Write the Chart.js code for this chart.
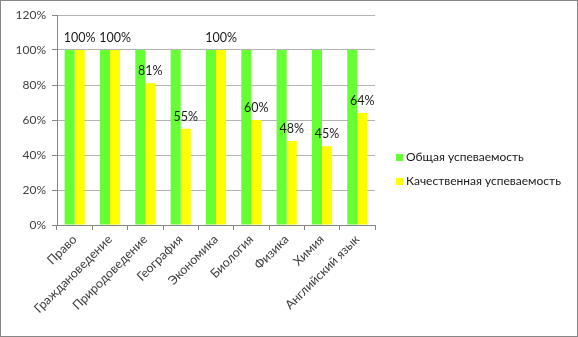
<!DOCTYPE html>
<html>
<head>
<meta charset="utf-8">
<script src="https://cdn.jsdelivr.net/npm/chart.js@4/dist/chart.umd.min.js"></script>
<style>
  html, body { margin: 0; padding: 0; background: #fff; }
  #wrap { width: 578px; height: 337px; }
</style>
</head>
<body>
<div id="wrap"><canvas id="chart" width="578" height="337"></canvas></div>
<script>
// Успеваемость по предметам
const subjects = ['Право', 'Граждановедение', 'Природоведение', 'География', 'Экономика',
  'Биология', 'Физика', 'Химия', 'Английский язык'];
const totalPerf = [100, 100, 100, 100, 100, 100, 100, 100, 100];
const qualityPerf = [100, 100, 81, 55, 100, 60, 48, 45, 64];
const yTicks = [0, 20, 40, 60, 80, 100, 120];

const FONT = 'Lato, "Open Sans", sans-serif';

// frame around the whole picture + value labels + legend
const extras = {
  id: 'extras',
  afterDraw(chart) {
    const c = chart.ctx;
    c.save();
    c.strokeStyle = '#868686';
    c.lineWidth = 1;
    c.strokeRect(0.5, 0.5, chart.width - 1, chart.height - 1);

    // labels above yellow bars
    c.fillStyle = '#1a1a1a';
    c.font = '12.5px ' + FONT;
    c.textAlign = 'center';
    c.textBaseline = 'bottom';
    chart.getDatasetMeta(1).data.forEach((bar, i) => {
      c.fillText(qualityPerf[i] + '%', bar.x, bar.y - 6);
    });

    // legend
    c.font = '12px ' + FONT;
    c.textAlign = 'left';
    c.textBaseline = 'middle';
    chart.data.datasets.forEach((ds, i) => {
      const y = 157 + i * 24;
      c.fillStyle = ds.backgroundColor;
      c.fillRect(396, y - 3, 7, 7);
      c.fillStyle = '#1a1a1a';
      c.fillText(ds.label, 406, y + 0.5);
    });
    c.restore();
  }
};

new Chart(document.getElementById('chart'), {
  type: 'bar',
  data: {
    labels: subjects,
    datasets: [
      { label: 'Общая успеваемость', data: totalPerf, backgroundColor: '#66FF33' },
      { label: 'Качественная успеваемость', data: qualityPerf, backgroundColor: '#FFFF00' }
    ]
  },
  options: {
    animation: false,
    responsive: false,
    layout: { padding: { left: 0, right: 203, top: 15, bottom: 0 } },
    datasets: { bar: { categoryPercentage: 0.57, barPercentage: 1 } },
    plugins: { legend: { display: false }, tooltip: { enabled: false } },
    scales: {
      x: {
        grid: { offset: true, drawOnChartArea: false, color: '#868686', tickLength: 5 },
        border: { color: '#868686' },
        ticks: {
          minRotation: 45, maxRotation: 45, autoSkip: false,
          color: '#404040', font: { family: FONT, size: 12.5 }, padding: 2
        },
        afterFit: s => { s.height = 112; }
      },
      y: {
        min: 0, max: 120,
        afterBuildTicks: s => { s.ticks = yTicks.map(v => ({ value: v })); },
        grid: { color: '#b4b4b4', tickLength: 5, tickColor: '#868686' },
        border: { color: '#868686' },
        ticks: {
          color: '#404040', font: { family: FONT, size: 12 }, padding: 6,
          callback: v => v + '%'
        },
        afterFit: s => { s.width = 57; }
      }
    }
  },
  plugins: [extras]
});
</script>
</body>
</html>
